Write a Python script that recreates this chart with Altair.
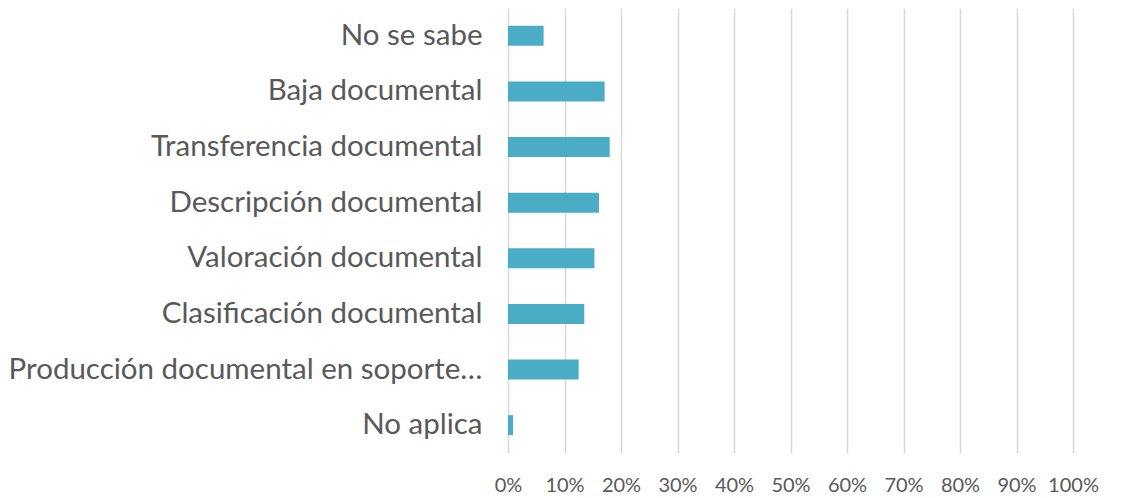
import altair as alt
import pandas as pd

categories = [
    "No se sabe",
    "Baja documental",
    "Transferencia documental",
    "Descripción documental",
    "Valoración documental",
    "Clasificación documental",
    "Producción documental en soporte…",
    "No aplica",
]
values = [0.063, 0.171, 0.180, 0.161, 0.153, 0.135, 0.125, 0.009]
tick_values = [i / 10 for i in range(11)]

df = pd.DataFrame({"categoria": categories, "valor": values})

chart = (
    alt.Chart(df)
    .mark_bar(color="#4BACC6")
    .encode(
        x=alt.X(
            "valor:Q",
            scale=alt.Scale(domain=[0, 1], nice=False),
            axis=alt.Axis(
                values=tick_values,
                format=".0%",
                title=None,
                grid=True,
                gridColor="#D9D9D9",
                gridWidth=1.5,
                domain=False,
                ticks=False,
                labelOverlap=False,
                labelFlush=False,
                labelFont="Lato",
                labelFontSize=20,
                labelColor="#595959",
                labelPadding=22,
            ),
        ),
        y=alt.Y(
            "categoria:N",
            sort=categories,
            scale=alt.Scale(paddingInner=0.64, paddingOuter=0.32),
            axis=alt.Axis(
                title=None,
                domain=False,
                ticks=False,
                labelFont="Lato",
                labelFontSize=29.5,
                labelColor="#595959",
                labelPadding=26,
                labelLimit=700,
            ),
        ),
    )
    .properties(
        width=565,
        height=445,
        background="white",
        padding={"left": 0, "top": 0, "right": 5, "bottom": 5},
    )
    .configure_view(strokeWidth=0, stroke="transparent")
)

chart.save("out.html", embed_options={"renderer": "svg", "actions": False})
